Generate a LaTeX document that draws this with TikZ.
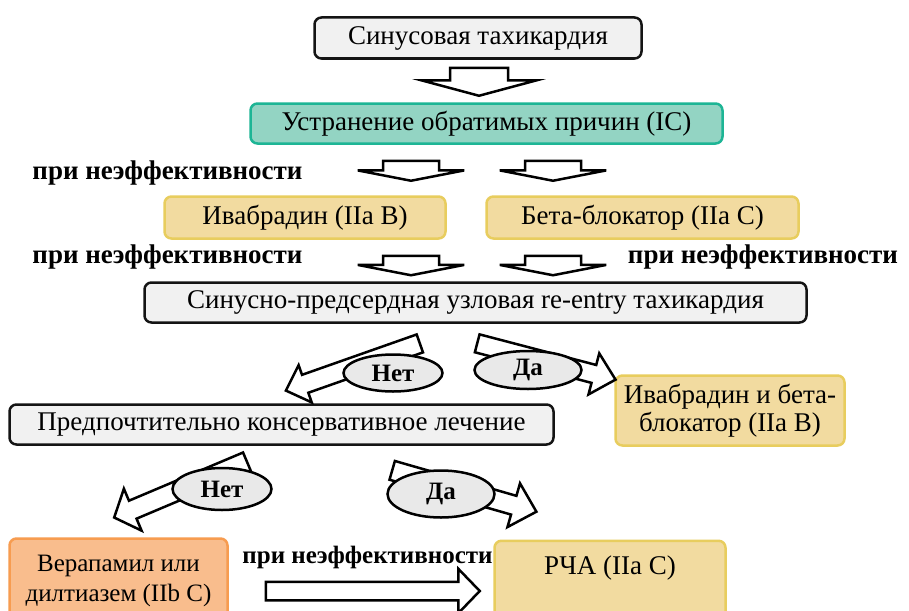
\documentclass[tikz,border=0pt]{standalone}
\usepackage{fontspec}
\setmainfont{Liberation Serif}
\usetikzlibrary{shapes.arrows,shapes.geometric}

\definecolor{boxgray}{HTML}{F1F1F1}
\definecolor{ovalgray}{HTML}{E9E9E9}
\definecolor{tealfill}{HTML}{93D4C3}
\definecolor{tealline}{HTML}{1DB595}
\definecolor{sandfill}{HTML}{F2DBA0}
\definecolor{sandline}{HTML}{E8CD5E}
\definecolor{orfill}{HTML}{F9BD8D}
\definecolor{orline}{HTML}{F79C50}

\tikzset{
  box/.style={rectangle, rounded corners=7pt, line width=2.5pt, inner sep=0pt,
    align=center, font=\fontsize{27}{30}\selectfont},
  graybox/.style={box, draw=black!92, fill=boxgray},
  tealbox/.style={box, draw=tealline, fill=tealfill},
  sandbox/.style={box, draw=sandline, fill=sandfill},
  orbox/.style={box, draw=orline, fill=orfill},
  oval/.style={ellipse, draw=black, fill=ovalgray, line width=2.5pt, inner sep=0pt,
    font=\bfseries\fontsize{25}{28}\selectfont},
  lbl/.style={font=\bfseries\fontsize{27}{30}\selectfont, inner sep=0pt, anchor=base},
  % hollow block arrow: length, head width, half shaft width, head extend, tip angle
  barrow/.style n args={5}{single arrow, draw=black, fill=white, line width=2.5pt,
    inner xsep=0pt, inner ysep=#3, minimum height=#1, minimum width=#2,
    single arrow head extend=#4, single arrow tip angle=#5, anchor=tail},
}

\begin{document}
\begin{tikzpicture}[x=1pt, y=-1pt]
\fill[white] (0,0) rectangle (909,610);
\useasboundingbox (0,0) rectangle (909,610);
\clip (0,0) rectangle (909,610);

% main boxes
\node[graybox, minimum width=327, minimum height=41] (sinus) at (478,38) {Синусовая тахикардия};
\node[tealbox, minimum width=472, minimum height=40] (causes) at (486.5,123.5) {Устранение обратимых причин (IC)};
\node[sandbox, minimum width=281, minimum height=42] (ivab) at (305,217.5) {Ивабрадин (IIa B)};
\node[sandbox, minimum width=312, minimum height=42] (beta) at (642.5,217.5) {Бета-блокатор (IIa C)};
\node[graybox, minimum width=662, minimum height=40] (reentry) at (475.5,302.5) {Синусно-предсердная узловая re-entry тахикардия};
\node[graybox, minimum width=544, minimum height=40] (conserv) at (281.5,424.5) {Предпочтительно консервативное лечение};
\node[sandbox, minimum width=229, minimum height=70] (combo) at (730,410.5) {Ивабрадин и бета-\\[-2pt]блокатор (IIa B)};
\node[orbox, minimum width=218, minimum height=85, font=\fontsize{25}{30}\selectfont] (verap) at (118.5,581) {Верапамил или\\дилтиазем (IIb C)};
\node[sandbox, minimum width=231, anchor=north, inner ysep=0pt, text height=33.5, text depth=52] (rfa) at (610,539.5) {РЧА (IIa C)};

% labels
\node[lbl] (ineff1) at (167.5,179) {при неэффективности};
\node[lbl] (ineff2) at (167.5,263.5) {при неэффективности};
\node[lbl] (ineff3) at (763,263.5) {при неэффективности};
\node[lbl, font=\bfseries\fontsize{25}{28}\selectfont] (ineff4) at (367.5,563) {при неэффективности};

% downward block arrows
\node[barrow={28}{112}{27.75}{28.25}{150}, rotate=-90] (a1) at (479,66.5) {};
\node[barrow={20}{104}{26.75}{25.25}{158}, rotate=-90] (a2) at (411,159.5) {};
\node[barrow={20}{104}{26.75}{25.25}{158}, rotate=-90] (a3) at (553,159.5) {};
\node[barrow={19.5}{104}{26.75}{25.25}{158}, rotate=-90] (a4) at (411,254.5) {};
\node[barrow={19.5}{104}{26.75}{25.25}{158}, rotate=-90] (a5) at (553,254.5) {};

% slanted block arrows behind the answer ovals
\node[barrow={142}{37}{8.25}{10.25}{88}, rotate=199.4] (a6) at (421,343) {};
\node[barrow={143}{40}{8}{12}{87}, rotate=-14.7] (a7) at (476,343) {};
\node[barrow={144}{43}{8.5}{13}{97}, rotate=202.9] (a8) at (248,461) {};
\node[barrow={150}{43}{8.5}{13}{88}, rotate=-16] (a9) at (391,470) {};

% horizontal block arrow
\node[barrow={214}{42}{8}{13}{92}] (a10) at (264.5,591) {};

% answer ovals
\node[oval, minimum width=99, minimum height=37] (no1) at (393,373) {Нет};
\node[oval, minimum width=107, minimum height=38] (yes1) at (528,370) {Да};
\node[oval, minimum width=99, minimum height=42] (no2) at (222,489) {Нет};
\node[oval, minimum width=107, minimum height=47] (yes2) at (441,494) {Да};
\end{tikzpicture}
\end{document}
